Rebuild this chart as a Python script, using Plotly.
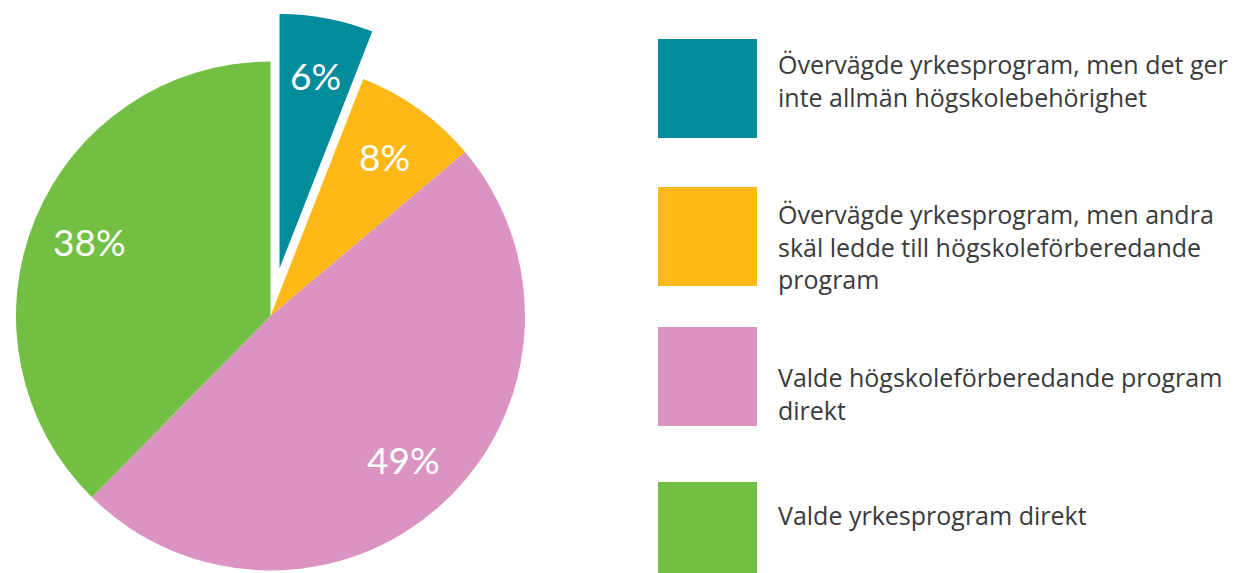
import math
import plotly.graph_objects as go

categories = [
    "Övervägde yrkesprogram, men det ger<br>inte allmän högskolebehörighet",
    "Övervägde yrkesprogram, men andra<br>skäl ledde till högskoleförberedande<br>program",
    "Valde högskoleförberedande program<br>direkt",
    "Valde yrkesprogram direkt",
]
values = [6, 8, 49, 38]
colors = ["#008C9B", "#FBB817", "#DB94C1", "#72BF44"]
pulled_index = 0
pull = 0.19

W, H = 1244, 573
cx, cy, r = 270.5, 316.0, 254.5  # pie centre / radius in pixels
label_r = 0.77

total = sum(values)
cum = [sum(values[:i]) for i in range(len(values))]
mids = [(cum[i] + values[i] / 2) / total * 360 for i in range(len(values))]
dx = pull * r * math.sin(math.radians(mids[pulled_index]))
dy = -pull * r * math.cos(math.radians(mids[pulled_index]))


def dom(x, y):
    return dict(x=[(x - r) / W, (x + r) / W], y=[(H - (y + r)) / H, (H - (y - r)) / H])


common = dict(values=values, labels=categories, textinfo="none", sort=False,
              direction="clockwise", rotation=0, showlegend=False, hoverinfo="label+percent")

fig = go.Figure()
# main pie (pulled slice left empty)
fig.add_trace(go.Pie(
    marker=dict(colors=["rgba(0,0,0,0)" if i == pulled_index else c for i, c in enumerate(colors)],
                line=dict(width=0)),
    domain=dom(cx, cy), **common))
# pulled slice, same scale, shifted outward along its bisector
fig.add_trace(go.Pie(
    marker=dict(colors=[c if i == pulled_index else "rgba(0,0,0,0)" for i, c in enumerate(colors)],
                line=dict(width=0)),
    domain=dom(cx + dx, cy + dy), **common))

annotations = []
# percentage labels along each slice's bisector
for i, v in enumerate(values):
    ox, oy = (cx + dx, cy + dy) if i == pulled_index else (cx, cy)
    a = math.radians(mids[i])
    px = ox + label_r * r * math.sin(a)
    py = oy - label_r * r * math.cos(a)
    annotations.append(dict(xref="paper", yref="paper", x=px / W, y=(H - py) / H,
                            xanchor="center", yanchor="middle", showarrow=False,
                            text=f"{v}%",
                            font=dict(family="Lato, Roboto, sans-serif", size=37, color="white")))

# custom legend: big swatches + wrapped labels
sw_x0, sw_x1 = 658, 757
sw_tops = [39, 187, 327, 482]
sw_h = 99
text_centers = [80, 246, 393, 515]
shapes = []
for i, cat in enumerate(categories):
    shapes.append(dict(type="rect", xref="paper", yref="paper",
                       x0=sw_x0 / W, x1=sw_x1 / W,
                       y0=(H - (sw_tops[i] + sw_h)) / H, y1=(H - sw_tops[i]) / H,
                       fillcolor=colors[i], line=dict(width=0), layer="below"))
    annotations.append(dict(xref="paper", yref="paper", x=776 / W, y=(H - text_centers[i]) / H,
                            xanchor="left", yanchor="middle", align="left", showarrow=False,
                            text=cat, font=dict(family="Open Sans, sans-serif", size=25, color="#3a3a3a")))

fig.update_layout(
    width=W, height=H,
    margin=dict(l=0, r=0, t=0, b=0),
    paper_bgcolor="white", plot_bgcolor="white",
    shapes=shapes, annotations=annotations,
    showlegend=False,
)
fig.write_html("out.html", config={"displayModeBar": False},
               post_script="document.body.style.margin='0';document.body.style.overflow='hidden';")
